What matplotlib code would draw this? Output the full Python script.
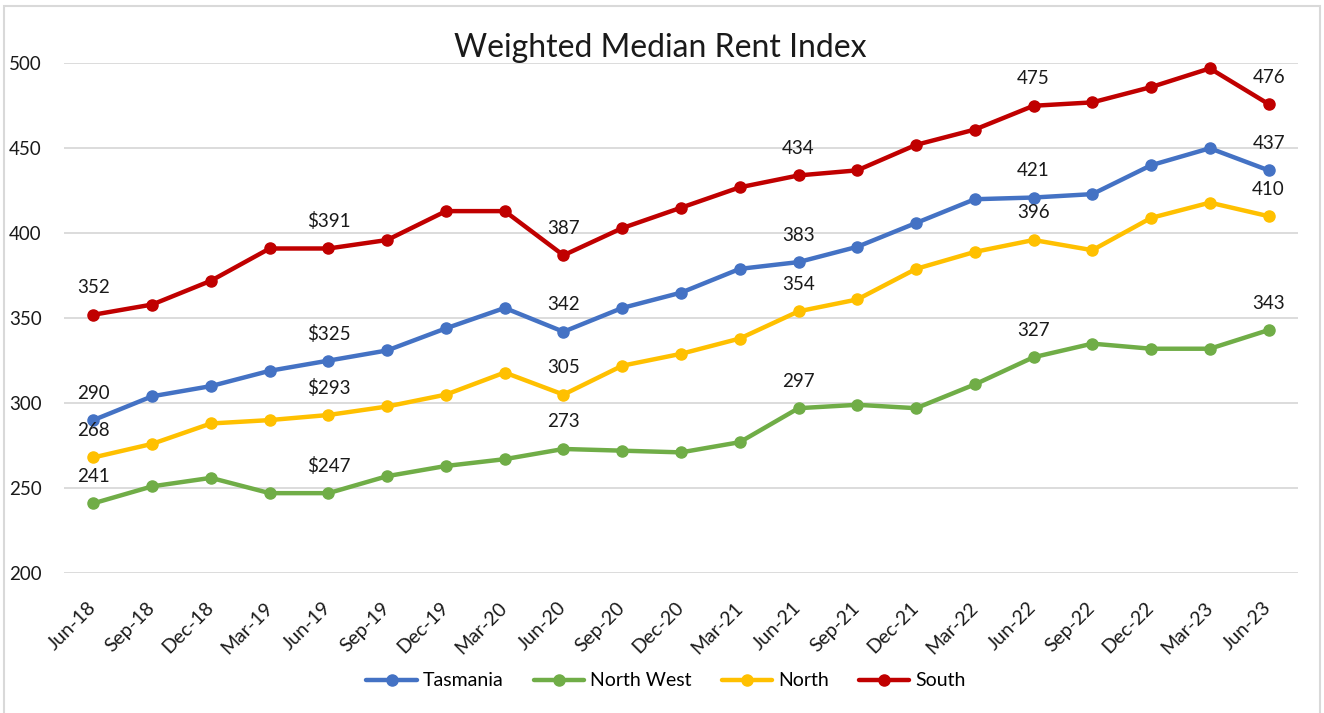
import numpy as np
import matplotlib
matplotlib.use("Agg")
import matplotlib.pyplot as plt
from matplotlib.patches import Rectangle

plt.rcParams['font.family'] = ['Lato', 'DejaVu Sans']

quarters = ["Jun-18", "Sep-18", "Dec-18", "Mar-19", "Jun-19", "Sep-19", "Dec-19",
            "Mar-20", "Jun-20", "Sep-20", "Dec-20", "Mar-21", "Jun-21", "Sep-21",
            "Dec-21", "Mar-22", "Jun-22", "Sep-22", "Dec-22", "Mar-23", "Jun-23"]

tasmania = [290, 304, 310, 319, 325, 331, 344, 356, 342, 356, 365, 379, 383, 392,
            406, 420, 421, 423, 440, 450, 437]
north_west = [241, 251, 256, 247, 247, 257, 263, 267, 273, 272, 271, 277, 297, 299,
              297, 311, 327, 335, 332, 332, 343]
north = [268, 276, 288, 290, 293, 298, 305, 318, 305, 322, 329, 338, 354, 361,
         379, 389, 396, 390, 409, 418, 410]
south = [352, 358, 372, 391, 391, 396, 413, 413, 387, 403, 415, 427, 434, 437,
         452, 461, 475, 477, 486, 497, 476]

# which points carry a data label, and the text shown
label_idx = [0, 4, 8, 12, 16, 20]
dollar_idx = 4

series = [("Tasmania", tasmania, "#4472C4"),
          ("North West", north_west, "#70AD47"),
          ("North", north, "#FFC000"),
          ("South", south, "#C00000")]

fig = plt.figure(figsize=(13.24, 7.13), dpi=100)
ax = fig.add_axes([64/1324, 1 - 573/713, (1298-64)/1324, (573-63.3)/713])

x = np.arange(len(quarters))
for name, vals, col in series:
    ax.plot(x, vals, color=col, lw=3.2, marker='o', ms=8, label=name,
            solid_capstyle='round', clip_on=False, zorder=3)
    for i in label_idx:
        txt = "$%d" % vals[i] if i == dollar_idx else "%d" % vals[i]
        ax.annotate(txt, (x[i], vals[i]), xytext=(0, 27), textcoords='offset pixels',
                    ha='center', va='center', fontsize=13.5, color='#1a1a1a')

ax.set_xlim(-0.5, len(quarters) - 0.5)
ax.set_ylim(200, 500)
ax.set_yticks(range(200, 501, 50))
ax.set_xticks(x)
ax.set_xticklabels(quarters, rotation=45, ha='right', va='center',
                   rotation_mode='anchor', fontsize=14, color='#1a1a1a')
ax.tick_params(axis='x', length=0, pad=23)
ax.tick_params(axis='y', length=0, pad=16, labelsize=13.5, labelcolor='#1a1a1a')
ax.grid(axis='y', color='#D9D9D9', lw=1.3)
ax.set_axisbelow(True)
for s in ax.spines.values():
    s.set_visible(False)

fig.text(660/1324, 1 - 57/713, "Weighted Median Rent Index", ha='center',
         va='baseline', fontsize=23, color='#1a1a1a')

fig.legend(loc='center', bbox_to_anchor=(666/1324, 1 - 681/713), ncol=4,
           frameon=False, fontsize=14, handlelength=2.6, handletextpad=0.3,
           columnspacing=1.55)

fig.patches.append(Rectangle((4/1324, -0.05), 1316/1324, 1.05 - 6/713,
                             transform=fig.transFigure, fill=False,
                             edgecolor='#D9D9D9', lw=1.5))

fig.savefig("out.png", dpi=100)
